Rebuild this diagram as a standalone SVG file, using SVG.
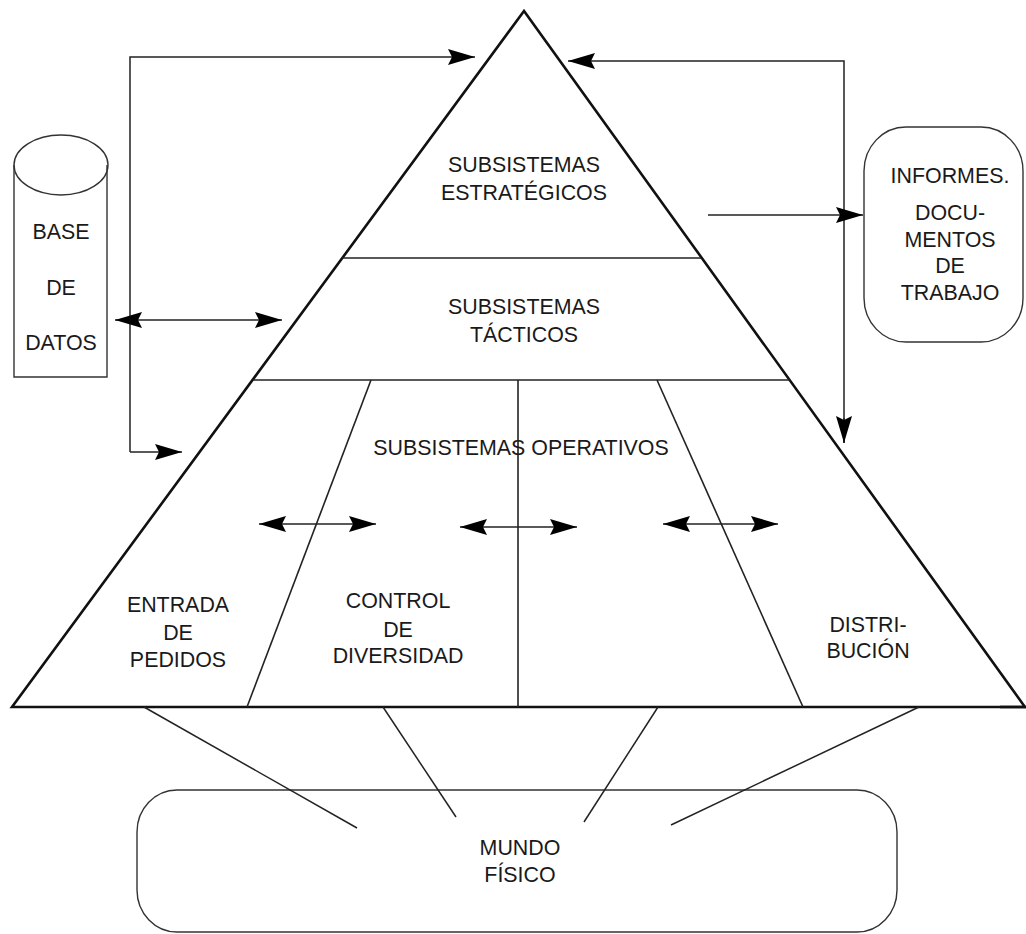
<svg xmlns="http://www.w3.org/2000/svg" width="1026" height="934" viewBox="0 0 1026 934">
<style>
  .bg { fill: #ffffff; }
  .edge { fill: none; stroke: #111; stroke-width: 2.6; stroke-linejoin: miter; }
  .div { fill: none; stroke: #222; stroke-width: 1.6; }
  .box { fill: none; stroke: #333; stroke-width: 1.4; }
  .con { fill: none; stroke: #222; stroke-width: 1.5; }
  .t { font-family: "Liberation Sans", Arial, sans-serif; font-size: 21.4px; fill: #1a1a1a; text-anchor: middle; }
</style>
<defs>
  <marker id="ah" viewBox="0 0 27 16" refX="27" refY="8" markerWidth="27" markerHeight="16" markerUnits="userSpaceOnUse" orient="auto-start-reverse">
    <path d="M0,0 L27,8 L0,16 L4,8 z" fill="#000"/>
  </marker>
</defs>
<rect class="bg" x="0" y="0" width="1026" height="934"/>

<g id="piramide">
  <polygon class="edge" points="524,11 12,707 1025,707"/>
  <line class="edge" x1="1000" y1="707" x2="1026" y2="707"/>
  <line class="div" x1="342" y1="258" x2="701" y2="258"/>
  <line class="div" x1="253" y1="380" x2="790" y2="380"/>
  <line class="div" x1="371" y1="380" x2="247" y2="707"/>
  <line class="div" x1="518" y1="380" x2="518" y2="707"/>
  <line class="div" x1="657" y1="380" x2="803" y2="707"/>
</g>

<g id="estrategicos">
  <text class="t" x="524" y="172">SUBSISTEMAS</text>
  <text class="t" x="524" y="200">ESTRATÉGICOS</text>
</g>
<g id="tacticos">
  <text class="t" x="524" y="314">SUBSISTEMAS</text>
  <text class="t" x="524" y="342">TÁCTICOS</text>
</g>
<g id="operativos">
  <text class="t" x="521" y="455">SUBSISTEMAS OPERATIVOS</text>
</g>
<g id="entrada">
  <text class="t" x="178" y="612">ENTRADA</text>
  <text class="t" x="178" y="640">DE</text>
  <text class="t" x="178" y="667">PEDIDOS</text>
</g>
<g id="control">
  <text class="t" x="398" y="608">CONTROL</text>
  <text class="t" x="398" y="637">DE</text>
  <text class="t" x="398" y="663">DIVERSIDAD</text>
</g>
<g id="distribucion">
  <text class="t" x="868" y="632">DISTRI-</text>
  <text class="t" x="868" y="658">BUCIÓN</text>
</g>

<g id="base-datos">
  <path class="box" d="M14,165 L14,377 L107,377 L107,165"/>
  <ellipse class="box" cx="61" cy="165" rx="47" ry="30"/>
  <text class="t" x="61" y="239">BASE</text>
  <text class="t" x="61" y="295">DE</text>
  <text class="t" x="61" y="350">DATOS</text>
</g>

<g id="informes">
  <rect class="box" x="864" y="127" width="159" height="215" rx="42" ry="44"/>
  <text class="t" x="950" y="183">INFORMES.</text>
  <text class="t" x="950" y="220">DOCU-</text>
  <text class="t" x="950" y="247">MENTOS</text>
  <text class="t" x="950" y="273">DE</text>
  <text class="t" x="950" y="300">TRABAJO</text>
</g>

<g id="mundo-fisico">
  <rect class="box" x="137" y="790" width="760" height="142" rx="40" ry="42"/>
  <text class="t" x="520" y="855">MUNDO</text>
  <text class="t" x="520" y="882">FÍSICO</text>
</g>

<g id="conectores">
  <polyline class="con" points="130,452 130,57 475,57" marker-end="url(#ah)"/>
  <line class="con" x1="130" y1="452" x2="182" y2="452" marker-end="url(#ah)"/>
  <line class="con" x1="115" y1="320" x2="282" y2="320" marker-start="url(#ah)" marker-end="url(#ah)"/>
  <polyline class="con" points="844,443 844,61 568,61" marker-end="url(#ah)"/>
  <path class="con" d="M844,418 L844,443" marker-end="url(#ah)"/>
  <line class="con" x1="708" y1="215" x2="863" y2="215" marker-end="url(#ah)"/>
  <line class="con" x1="259" y1="524" x2="376" y2="524" marker-start="url(#ah)" marker-end="url(#ah)"/>
  <line class="con" x1="460" y1="527" x2="577" y2="527" marker-start="url(#ah)" marker-end="url(#ah)"/>
  <line class="con" x1="663" y1="524" x2="778" y2="524" marker-start="url(#ah)" marker-end="url(#ah)"/>
  <line class="con" x1="144" y1="707" x2="357" y2="828"/>
  <line class="con" x1="383" y1="707" x2="456" y2="817"/>
  <line class="con" x1="658" y1="707" x2="584" y2="822"/>
  <line class="con" x1="919" y1="707" x2="671" y2="825"/>
</g>
</svg>
